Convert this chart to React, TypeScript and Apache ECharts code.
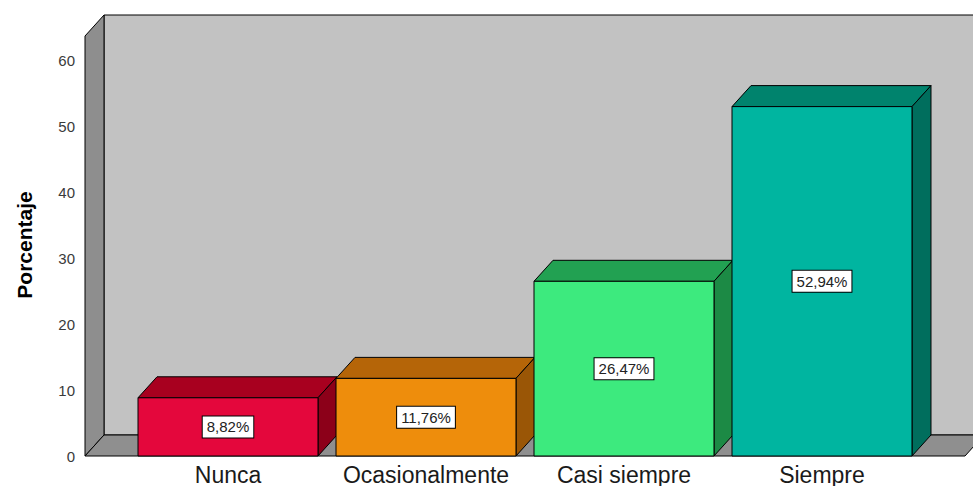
import React, { useEffect, useRef } from "react";
import * as echarts from "echarts";

const categories = ["Nunca", "Ocasionalmente", "Casi siempre", "Siempre"];
const values = [8.82, 11.76, 26.47, 52.94];
const valueLabels = ["8,82%", "11,76%", "26,47%", "52,94%"];
const frontColors = ["#E4073C", "#EE8D0C", "#3DEA7E", "#00B5A0"];
const topColors = ["#A8001F", "#B56508", "#22A152", "#00836D"];
const sideColors = ["#8C0019", "#9A5606", "#1C8A45", "#006E5D"];
const yTicks = { min: 0, max: 60, interval: 10 };
const yTitle = "Porcentaje";

const FONT = "'Liberation Sans', Arial, sans-serif";
const DX = 19;
const DY = -21;

export default function App() {
  const ref = useRef<HTMLDivElement>(null);
  useEffect(() => {
    if (!ref.current) return;
    const chart = echarts.init(ref.current, undefined, { renderer: "svg" });
    const option: any = {
      animation: false,
      backgroundColor: "#ffffff",
      grid: { left: 129, right: 52, top: 60, bottom: 30 },
      graphic: [
        {
          type: "text",
          x: 24,
          y: 245,
          rotation: Math.PI / 2,
          style: {
            text: yTitle,
            fontFamily: FONT,
            fontSize: 21,
            fontWeight: "bold",
            fill: "#000",
            align: "center",
            verticalAlign: "middle",
          },
        },
      ],
      xAxis: {
        type: "category",
        data: categories,
        axisLine: { show: false },
        axisTick: { show: false },
        axisLabel: { interval: 0, fontFamily: FONT, fontSize: 23, color: "#1a1a1a", margin: 7 },
      },
      yAxis: {
        type: "value",
        min: yTicks.min,
        max: yTicks.max,
        interval: yTicks.interval,
        offset: 44,
        axisLine: { show: false },
        axisTick: { show: false },
        splitLine: { show: false },
        axisLabel: { fontFamily: FONT, fontSize: 15, color: "#3a3a3a", margin: 10 },
      },
      series: [
        {
          type: "custom",
          z: 1,
          silent: true,
          data: [[0, 0]],
          renderItem: (params: any, api: any) => {
            const cs = params.coordSys;
            const ext = 44;
            const FL = cs.x - ext;
            const FR = cs.x + cs.width + ext;
            const FB = cs.y + cs.height;
            const FT = cs.y - 24;
            const stroke = { stroke: "#000", lineWidth: 1 };
            return {
              type: "group",
              children: [
                {
                  type: "polygon",
                  shape: { points: [[FL + DX, FT + DY], [FR + DX + 40, FT + DY], [FR + DX + 40, FB + DY], [FL + DX, FB + DY]] },
                  style: { fill: "#C2C2C2", ...stroke },
                },
                {
                  type: "polygon",
                  shape: { points: [[FL, FT], [FL + DX, FT + DY], [FL + DX, FB + DY], [FL, FB]] },
                  style: { fill: "#8E8E8E", ...stroke },
                },
                {
                  type: "polygon",
                  shape: { points: [[FL, FB], [FL + DX, FB + DY], [FR + DX, FB + DY], [FR, FB]] },
                  style: { fill: "#8F8F8F", ...stroke },
                },
              ],
            };
          },
        },
        {
          type: "custom",
          z: 2,
          data: values.map((v, i) => [i, v]),
          renderItem: (params: any, api: any) => {
            const i = params.dataIndex;
            const xi = api.value(0);
            const v = api.value(1);
            const top = api.coord([xi, v]);
            const base = api.coord([xi, 0]);
            const bw = api.size([1, 0])[0] * 0.909;
            const l = top[0] - bw / 2;
            const r = top[0] + bw / 2;
            const ty = top[1];
            const by = base[1];
            const stroke = { stroke: "#000", lineWidth: 1 };
            return {
              type: "group",
              children: [
                {
                  type: "polygon",
                  shape: { points: [[l, ty], [l + DX, ty + DY], [r + DX, ty + DY], [r, ty]] },
                  style: { fill: topColors[i], ...stroke },
                },
                {
                  type: "polygon",
                  shape: { points: [[r, ty], [r + DX, ty + DY], [r + DX, by + DY], [r, by]] },
                  style: { fill: sideColors[i], ...stroke },
                },
                {
                  type: "rect",
                  shape: { x: l, y: ty, width: bw, height: by - ty },
                  style: { fill: frontColors[i], ...stroke },
                },
                {
                  type: "text",
                  x: top[0],
                  y: (ty + by) / 2,
                  style: {
                    text: valueLabels[i],
                    fontFamily: FONT,
                    fontSize: 15,
                    fill: "#222",
                    align: "center",
                    verticalAlign: "middle",
                    backgroundColor: "#ffffff",
                    borderColor: "#000",
                    borderWidth: 1,
                    padding: [3, 4],
                  },
                },
              ],
            };
          },
        },
      ],
    };
    chart.setOption(option);
    return () => chart.dispose();
  }, []);
  return (
    <div
      ref={ref}
      style={{ position: "fixed", left: 0, top: 0, width: 973, height: 486 }}
    />
  );
}
